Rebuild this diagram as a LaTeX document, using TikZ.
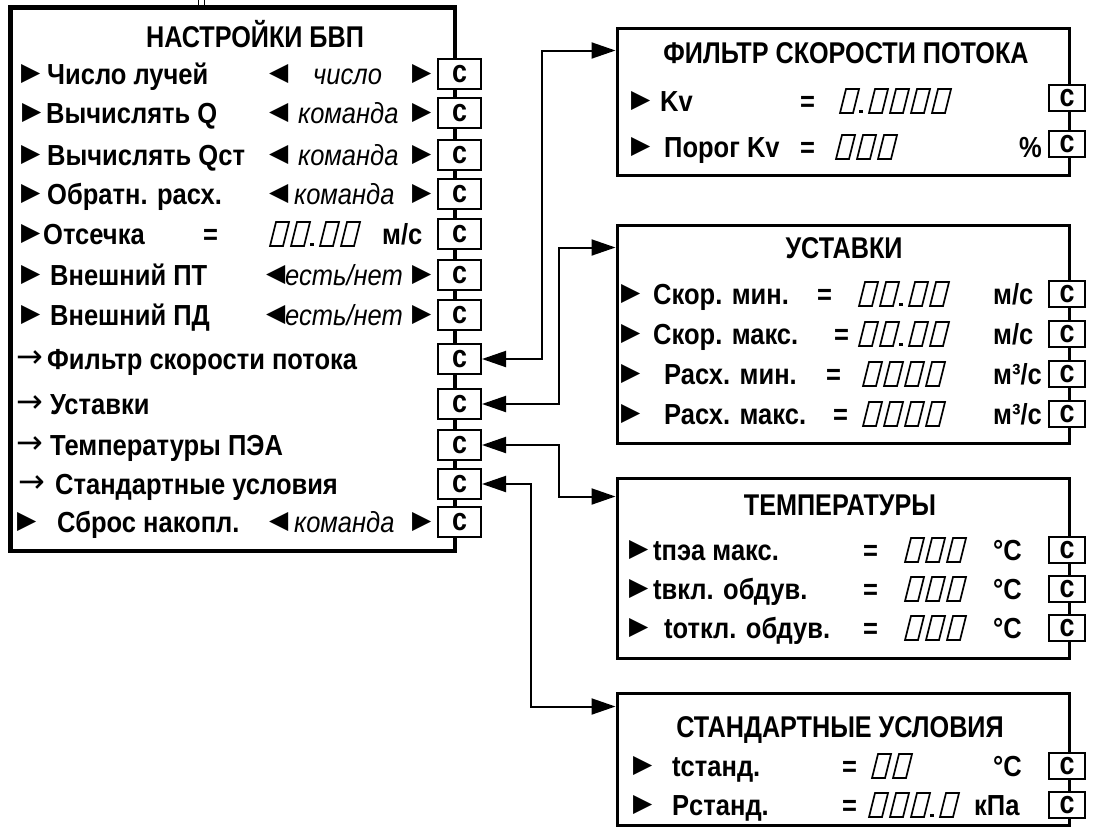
\documentclass[tikz,border=0pt]{standalone}
\usepackage{fontspec}
\setmainfont{Liberation Sans}
\newfontfamily\capsfont{Liberation Sans}[FakeStretch=0.84]
\newfontfamily\rowfont{Liberation Sans}[FakeStretch=0.88]
\newfontfamily\trifont{DejaVu Sans}
\usetikzlibrary{arrows.meta,calc}

\tikzset{
  menuframe/.style={line width=4.5pt},
  panel/.style={draw, line width=3pt, minimum width=452pt, inner sep=0pt},
  cbtn/.style={draw, fill=white, line width=2pt, minimum width=43pt, minimum height=30pt,
    inner sep=0pt, text height=16.5pt, text depth=0pt, font=\capsfont\bfseries\fontsize{32}{32}\selectfont},
  rbtn/.style={cbtn, minimum width=36pt, minimum height=26pt},
  txt/.style={anchor=base west, yshift=-10pt, inner sep=0pt, font=\rowfont\bfseries\fontsize{29}{30}\selectfont},
  val/.style={txt, font=\rowfont\itshape\fontsize{29}{30}\selectfont},
  ttl/.style={anchor=base, yshift=-10.5pt, inner sep=0pt, font=\capsfont\bfseries\fontsize{30}{30}\selectfont},
  tri/.style={anchor=west, inner sep=0pt, font=\trifont\fontsize{25}{25}\selectfont},
  link/.style={line width=2pt, {Triangle[length=24pt,width=16pt]}-{Triangle[length=24pt,width=16pt]}},
  seg/.pic={\draw[line width=1.7pt] (0,12) -- (13,12) -- (19,-12) -- (6,-12) -- cycle;}
}

\newcommand{\mps}{м/с}
\newcommand{\mcps}{м³/с}
% seven-segment field: x, y, digits before the point, digits after it
\newcommand{\segnum}[4]{%
  \foreach \k in {1,...,#3} {\pic at ({#1+21*(\k-1)},#2) {seg};}
  \ifnum#4>0
    \fill ({#1+21*#3-2},{#2+8.5}) rectangle ++(3.5,3.5);
    \foreach \k in {1,...,#4} {\pic at ({#1+21*#3+8+21*(\k-1)},#2) {seg};}
  \fi}

\begin{document}
\begin{tikzpicture}[x=1pt, y=-1pt]
  \useasboundingbox (0,0) rectangle (1099,830);

  % Menu frame
  \draw[menuframe] (10.5,7.5) rectangle (455,551);
  \draw[line width=1pt] (198,0) -- (198,6) (204,0) -- (204,6);
  \node[ttl] (menu-title) at (255,37) {НАСТРОЙКИ БВП};

  % Keys on the right edge
  \foreach \i/\y in {0/74,1/113,2/155,3/194,4/234,5/275,6/315,7/359,8/404,9/445,10/484,11/522}
    \node[cbtn] (m\i) at (459.5,\y) {с};

  % Menu items
  \foreach \i/\y/\px/\lx/\lbl in {0/74/21/47/Число лучей, 1/113/22/46/Вычислять Q,
      2/155/21/47/Вычислять Qст, 3/194/21/47/Обратн. расх., 4/234/21/43/Отсечка,
      5/275/21/50/Внешний ПТ, 6/315/21/50/Внешний ПД, 11/522/17/57/Сброс накопл.} {
    \node[tri] (p\i) at (\px,\y) {▶};
    \node[txt] (l\i) at (\lx,\y) {\lbl};
  }
  \foreach \i/\y/\px/\lx/\lbl in {7/359/16/47/Фильтр скорости потока, 8/404/16/50/Уставки,
      9/445/16/50/Температуры ПЭА, 10/484/18/55/Стандартные условия} {
    \node[tri, font=\trifont\fontsize{32}{32}\selectfont] (p\i) at (\px,\y) {→};
    \node[txt] (l\i) at (\lx,\y) {\lbl};
  }

  % Choices
  \foreach \i/\y/\vx/\v in {0/74/313/число, 1/113/298/команда, 2/155/298/команда,
      3/194/294/команда, 11/522/294/команда} {
    \node[tri] (a\i) at (269,\y) {◀};
    \node[val] (v\i) at (\vx,\y) {\v};
    \node[tri] (b\i) at (412,\y) {▶};
  }
  \foreach \i/\y in {5/275,6/315} {
    \node[tri] (a\i) at (266,\y) {◀};
    \node[val] (v\i) at (285,\y) {есть/нет};
    \node[tri] (b\i) at (412,\y) {▶};
  }

  % Cut-off value
  \node[txt] (e4) at (203,234) {=};
  \segnum{270}{234}{2}{2}
  \node[txt] (u4) at (382,234) {\mps};

  % Velocity filter
  \node[panel, minimum height=147pt] (filt) at (843,101.5) {};
  \node[ttl] (filt-title) at (846,53) {ФИЛЬТР СКОРОСТИ ПОТОКА};
  \foreach \i/\y/\px/\lx/\lbl/\ex/\dx/\n/\m/\ux/\unit in {0/101/631/660/Kv/800/840/1/4/1019/,
      1/147/631/664/Порог Kv/800/836/3/0/1019/\%} {
    \node[tri] (fp\i) at (\px,\y) {▶};
    \node[txt] (fl\i) at (\lx,\y) {\lbl};
    \node[txt] (fe\i) at (\ex,\y) {=};
    \segnum{\dx}{\y}{\n}{\m}
    \node[txt] (fu\i) at (\ux,\y) {\unit};
    \node[rbtn] (fb\i) at (1067,\y-3) {с};
  }

  % Set points
  \node[panel, minimum height=218pt] (sets) at (843,334) {};
  \node[ttl] (sets-title) at (844,248) {УСТАВКИ};
  \foreach \i/\y/\px/\lx/\lbl/\ex/\dx/\n/\m/\ux/\unit in {0/294/621/653/Скор. мин./817/859/2/2/993/\mps,
      1/334/621/653/Скор. макс./834/859/2/2/993/\mps,
      2/374/621/664/Расх. мин./826/863/4/0/993/\mcps,
      3/414/621/664/Расх. макс./833/863/4/0/993/\mcps} {
    \node[tri] (sp\i) at (\px,\y) {▶};
    \node[txt] (sl\i) at (\lx,\y) {\lbl};
    \node[txt] (se\i) at (\ex,\y) {=};
    \segnum{\dx}{\y}{\n}{\m}
    \node[txt] (su\i) at (\ux,\y) {\unit};
    \node[rbtn] (sb\i) at (1067,\y) {с};
  }

  % Temperatures
  \node[panel, minimum height=180pt] (temps) at (843,568) {};
  \node[ttl] (temps-title) at (840,505) {ТЕМПЕРАТУРЫ};
  \foreach \i/\y/\px/\lx/\lbl/\ex/\dx/\n/\m/\ux/\unit in {0/550/629/653/tпэа макс./863/905/3/0/993/°C,
      1/589/629/653/tвкл. обдув./863/905/3/0/993/°C,
      2/628/629/664/tоткл. обдув./863/905/3/0/993/°C} {
    \node[tri] (tp\i) at (\px,\y) {▶};
    \node[txt] (tl\i) at (\lx,\y) {\lbl};
    \node[txt] (te\i) at (\ex,\y) {=};
    \segnum{\dx}{\y}{\n}{\m}
    \node[txt] (tu\i) at (\ux,\y) {\unit};
    \node[rbtn] (tb\i) at (1067,\y) {с};
  }

  % Standard conditions
  \node[panel, minimum height=132pt] (std) at (843,759) {};
  \node[ttl] (std-title) at (840,727) {СТАНДАРТНЫЕ УСЛОВИЯ};
  \foreach \i/\y/\px/\lx/\lbl/\ex/\dx/\n/\m/\ux/\unit in {0/766/633/672/tстанд./842/872/2/0/993/°C,
      1/805/633/672/Pстанд./842/869/3/1/974/кПа} {
    \node[tri] (dp\i) at (\px,\y) {▶};
    \node[txt] (dl\i) at (\lx,\y) {\lbl};
    \node[txt] (de\i) at (\ex,\y) {=};
    \segnum{\dx}{\y}{\n}{\m}
    \node[txt] (du\i) at (\ux,\y) {\unit};
    \node[rbtn] (db\i) at (1067,\y) {с};
  }

  % Links
  \coordinate (filt-in) at ($(filt.north west)+(0,24)$);
  \coordinate (sets-in) at ($(sets.north west)+(0,24)$);
  \coordinate (temps-in) at ($(temps.north west)+(0,20)$);
  \coordinate (std-in) at ($(std.north west)+(0,15)$);
  \draw[link] (m7.east) -- ++(60,0) |- (filt-in);
  \draw[link] (m8.east) -- ++(77,0) |- (sets-in);
  \draw[link] (m9.east) -- ++(77,0) |- (temps-in);
  \draw[link] (m10.east) -- ++(49,0) |- (std-in);
\end{tikzpicture}
\end{document}
